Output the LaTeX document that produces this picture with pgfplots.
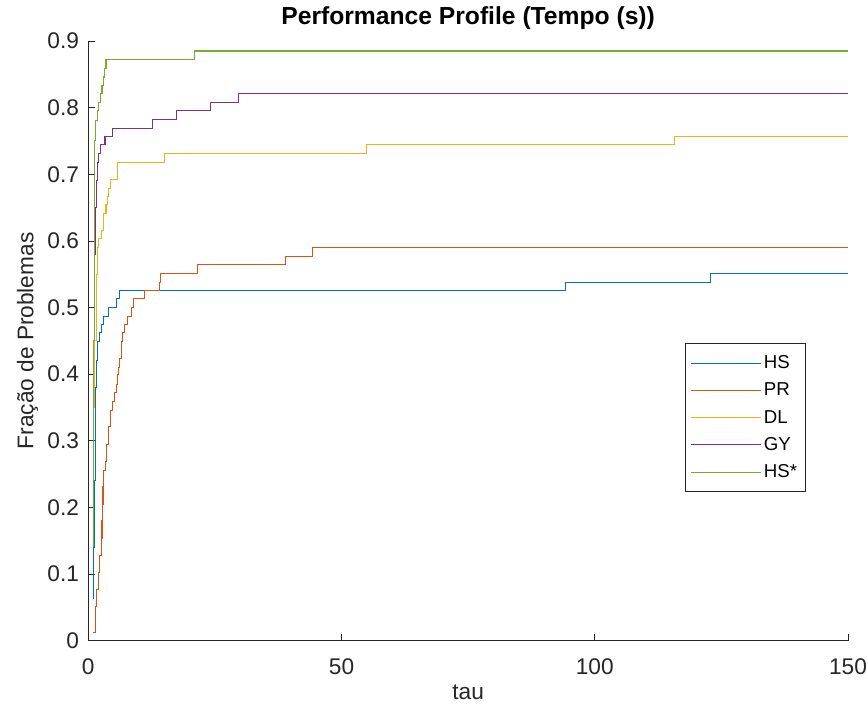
\documentclass[border=0pt]{standalone}
\usepackage{pgfplots}
\pgfplotsset{compat=1.18}
\usepackage{fontspec}
\setmainfont{Liberation Sans}
\definecolor{cHS}{rgb}{0,0.447,0.741}
\definecolor{cPR}{rgb}{0.85,0.325,0.098}
\definecolor{cDL}{rgb}{0.929,0.694,0.125}
\definecolor{cGY}{rgb}{0.494,0.184,0.556}
\definecolor{cHSs}{rgb}{0.466,0.674,0.188}
\definecolor{axgray}{rgb}{0.15,0.15,0.15}
\begin{document}
\begin{tikzpicture}
\begin{axis}[
  scale only axis, width=570pt, height=450pt,
  xmin=0, xmax=150, ymin=0, ymax=0.9,
  axis x line*=bottom, axis y line*=left,
  axis line style={axgray, line width=0.6pt},
  tick align=inside, major tick length=5pt,
  tick style={axgray, line width=0.6pt},
  xtick={0,50,100,150},
  ytick={0,0.1,0.2,0.3,0.4,0.5,0.6,0.7,0.8,0.9},
  yticklabels={0,0.1,0.2,0.3,0.4,0.5,0.6,0.7,0.8,0.9},
  /pgf/number format/assume math mode=true,
  ticklabel style={font=\fontsize{17}{20}\selectfont, text=axgray},
  xticklabel style={yshift=-10pt},
  yticklabel style={xshift=-3.5pt},
  xlabel={tau}, ylabel={Fração de Problemas},
  xlabel style={yshift=-1pt},
  label style={font=\fontsize{17}{20}\selectfont, text=axgray},
  title={\bfseries Performance Profile (Tempo (s))},
  title style={font=\fontsize{18.5}{22}\selectfont, text=black, yshift=-1pt},
  legend style={at={(0.944,0.248)}, anchor=south east, draw=axgray, line width=0.6pt,
    font=\fontsize{14}{16}\selectfont, row sep=5.2pt, inner xsep=4pt, inner ysep=7pt},
  legend cell align=left,
  legend image code/.code={\draw[#1, line width=0.8pt] (0pt,0pt) -- (52pt,0pt);},
  every axis plot/.append style={const plot, line width=0.8pt},
]
\coordinate (bl) at (rel axis cs:0,0);
\coordinate (tr) at (rel axis cs:1,1);
% HS
\addplot[cHS] coordinates {(1,0.064) (1.1,0.14) (1.3,0.24) (1.4,0.30) (1.5,0.38) (1.6,0.42) (1.8,0.449) (2.3,0.462) (2.6,0.474) (3.0,0.487) (3.9,0.5) (5.6,0.513) (6.1,0.526) (94.2,0.538) (122.8,0.551) (150,0.551)};
\addlegendentry{HS}
% PR
\addplot[cPR] coordinates {(1,0.0128) (1.4,0.051) (1.7,0.077) (2.0,0.103) (2.3,0.128) (2.55,0.154) (2.7,0.18) (2.8,0.205) (2.9,0.231) (3.0,0.256) (3.4,0.269) (3.6,0.295) (3.9,0.321) (4.3,0.346) (4.7,0.359) (5.1,0.372) (5.5,0.385) (5.8,0.40) (6.0,0.41) (6.2,0.423) (6.5,0.449) (6.8,0.462) (7.1,0.474) (7.7,0.487) (8.6,0.5) (8.9,0.513) (11.1,0.526) (14.0,0.538) (14.3,0.551) (21.6,0.564) (38.9,0.577) (44.3,0.59) (150,0.59)};
\addlegendentry{PR}
% DL
\addplot[cDL] coordinates {(1,0.205) (1.1,0.35) (1.3,0.45) (1.6,0.55) (1.8,0.59) (2.1,0.603) (2.6,0.615) (3.0,0.641) (3.5,0.654) (3.8,0.667) (4.0,0.679) (4.4,0.692) (5.7,0.718) (15.0,0.731) (55.0,0.744) (115.8,0.756) (150,0.756)};
\addlegendentry{DL}
% GY
\addplot[cGY] coordinates {(1,0.28) (1.1,0.45) (1.2,0.58) (1.4,0.65) (1.7,0.69) (1.9,0.718) (2.0,0.731) (2.4,0.744) (3.3,0.756) (4.7,0.769) (12.7,0.782) (17.5,0.795) (24.1,0.808) (29.7,0.8205) (150,0.8205)};
\addlegendentry{GY}
% HS*
\addplot[cHSs] coordinates {(1,0.141) (1.05,0.30) (1.1,0.45) (1.15,0.6) (1.2,0.70) (1.3,0.75) (1.5,0.78) (1.8,0.795) (2.0,0.808) (2.4,0.821) (2.7,0.833) (3.0,0.846) (3.2,0.859) (3.5,0.872) (21.0,0.885) (150,0.885)};
\addlegendentry{HS*}
\end{axis}
\pgfresetboundingbox
\path ([shift={(-66.25pt,-55.5pt)}]bl) rectangle ([shift={(15pt,30.75pt)}]tr);
\end{tikzpicture}
\end{document}
